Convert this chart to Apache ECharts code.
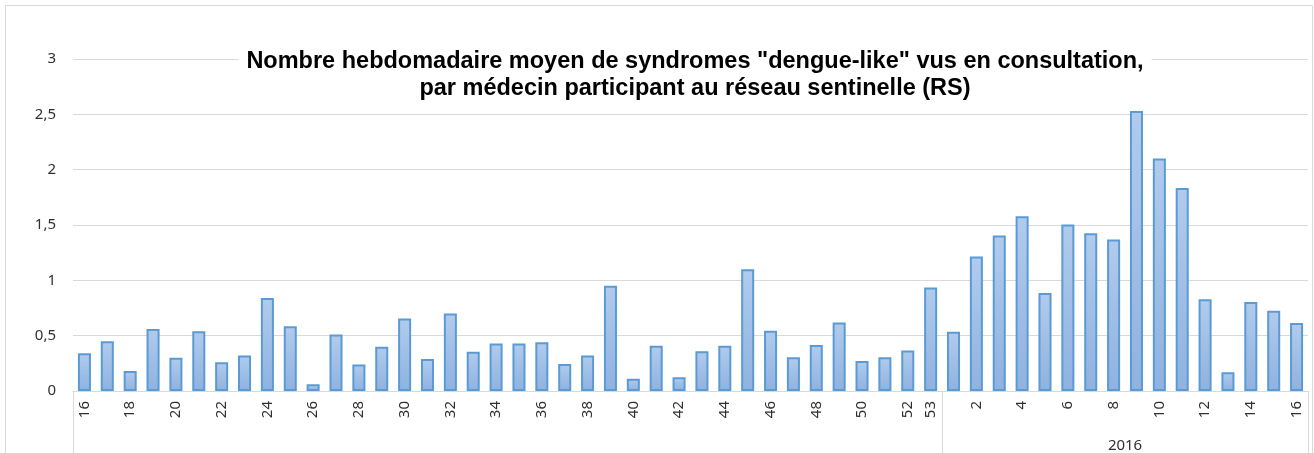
<!DOCTYPE html>
<html>
<head>
<meta charset="utf-8">
<script src="https://cdn.jsdelivr.net/npm/echarts@6/dist/echarts.min.js"></script>
<style>
html,body{margin:0;padding:0;background:#fff;}
#c{width:1314px;height:453px;}
</style>
</head>
<body>
<div id="c"></div>
<script>
// Data
var weeks2015 = [16,17,18,19,20,21,22,23,24,25,26,27,28,29,30,31,32,33,34,35,36,37,38,39,40,41,42,43,44,45,46,47,48,49,50,51,52,53];
var weeks2016 = [1,2,3,4,5,6,7,8,9,10,11,12,13,14,15,16];
var values2015 = [0.34,0.45,0.18,0.56,0.30,0.54,0.26,0.32,0.84,0.585,0.06,0.51,0.24,0.40,0.655,0.29,0.70,0.355,0.43,0.43,0.44,0.245,0.32,0.95,0.11,0.41,0.125,0.36,0.41,1.10,0.545,0.305,0.415,0.62,0.27,0.305,0.365,0.935];
var values2016 = [0.535,1.215,1.405,1.58,0.885,1.505,1.425,1.37,2.53,2.10,1.835,0.83,0.17,0.805,0.725,0.615];
var yearLabels = ['', '2016'];
var titleText = 'Nombre hebdomadaire moyen de syndromes "dengue-like" vus en consultation,\npar médecin participant au réseau sentinelle (RS)';

var categories = weeks2015.map(function(w){return '2015-' + w;}).concat(weeks2016.map(function(w){return '2016-' + w;}));
var values = values2015.concat(values2016);
var n = categories.length;
var n15 = weeks2015.length;
var n16 = weeks2016.length;

var font = 'Noto Sans';
var chart = echarts.init(document.getElementById('c'), null, {renderer:'canvas'});
chart.setOption({
  animation: false,
  backgroundColor: '#fff',
  title: {
    text: titleText,
    left: 687,
    top: 48,
    textAlign: 'center',
    backgroundColor: '#fff',
    padding: [0, 8],
    itemGap: 0,
    textStyle: {fontFamily: 'Liberation Sans', fontWeight: 'bold', fontSize: 23.5, lineHeight: 27, color: '#000'}
  },
  graphic: [{
    type: 'rect', silent: true, z: -10,
    shape: {x: 5.5, y: 5.5, width: 1307, height: 470},
    style: {fill: 'none', stroke: '#d9d9d9', lineWidth: 1}
  }],
  grid: {left: 73, right: 6, top: 59, bottom: 62, containLabel: false},
  xAxis: [{
    type: 'category',
    data: categories,
    boundaryGap: true,
    axisLine: {show: true, lineStyle: {color: '#d9d9d9', width: 1}},
    axisTick: {show: false},
    axisLabel: {
      rotate: 90,
      margin: 10,
      fontFamily: font,
      fontSize: 15,
      color: '#303030',
      interval: function(i, v){
        var w = parseInt(v.split('-')[1], 10);
        return w % 2 === 0 || w === 53;
      },
      formatter: function(v){ return v.split('-')[1]; }
    },
    splitLine: {show: false}
  }, {
    type: 'value',
    position: 'bottom',
    min: 0,
    max: n,
    axisLine: {show: false},
    axisTick: {show: true, length: 64, customValues: [0, n15, n], lineStyle: {color: '#d9d9d9', width: 1}},
    axisLabel: {
      show: true,
      customValues: [n15 + n16 / 2],
      formatter: function(){ return yearLabels[1]; },
      margin: 47,
      fontFamily: font,
      fontSize: 15,
      color: '#303030'
    },
    splitLine: {show: false}
  }],
  yAxis: {
    type: 'value',
    min: 0,
    max: 3,
    interval: 0.5,
    axisLine: {show: false},
    axisTick: {show: false},
    axisLabel: {
      margin: 17,
      fontFamily: font,
      fontSize: 15,
      color: '#303030',
      formatter: function(v){ return String(v).replace('.', ','); }
    },
    splitLine: {show: true, lineStyle: {color: '#d9d9d9', width: 1}}
  },
  series: [{
    type: 'bar',
    xAxisIndex: 0,
    data: values,
    barWidth: '57%',
    itemStyle: {
      color: new echarts.graphic.LinearGradient(0, 0, 0, 1, [
        {offset: 0, color: '#b1cbec'},
        {offset: 1, color: '#8fb2e0'}
      ]),
      borderColor: '#5b9bd5',
      borderWidth: 2
    }
  }]
});
</script>
</body>
</html>
